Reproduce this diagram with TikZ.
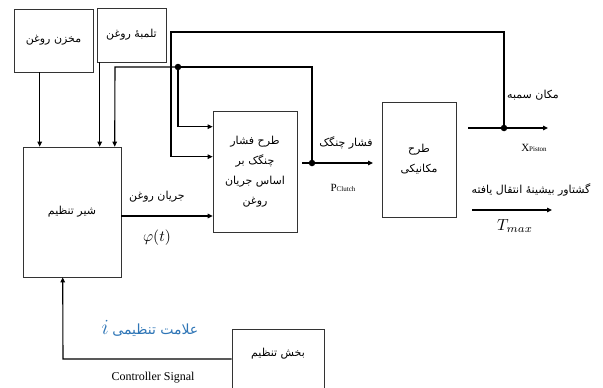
\documentclass[tikz,border=0pt]{standalone}
\usepackage{fontspec}
\setmainfont{Liberation Serif}
\newfontfamily\fa[Script=Arabic]{DejaVu Sans}
\TeXXeTstate=1
\usetikzlibrary{arrows.meta}
\definecolor{sigblue}{RGB}{46,117,182}
\newcommand{\fatxt}[1]{{\fa\beginR #1\endR}}
\begin{document}
\begin{tikzpicture}[x=1pt, y=-1pt,
    block/.style={draw=black!80, line width=0.6pt, inner sep=0pt, align=center, font=\fontsize{11}{20}\selectfont},
    wire/.style={line width=1.1pt},
    flow/.style={wire, -{Triangle[length=5pt,width=4.5pt]}},
    dot/.style={circle, fill=black, inner sep=0pt, minimum size=6.5pt},
    lbl/.style={font=\fontsize{11}{13}\selectfont}]
    \useasboundingbox (0,0) rectangle (603,388);
    % blocks
    \node[block, minimum width=79pt, minimum height=63pt] (tank) at (53.5,40.5) {\fatxt{مخزن روغن}};
    \node[block, minimum width=69pt, minimum height=54pt] (pump) at (131.5,35) {\fatxt{تلمبهٔ روغن}};
    \node[block, minimum width=98pt, minimum height=130pt] (valve) at (72,212) {\fatxt{شیر تنظیم}};
    \node[block, minimum width=84pt, minimum height=121pt] (press) at (255,171.5)
        {\fatxt{طرح فشار}\\\fatxt{چنگک بر}\\\fatxt{اساس جریان}\\\fatxt{روغن}};
    \node[block, minimum width=74pt, minimum height=115pt] (mech) at (419,159.5)
        {\fatxt{طرح}\\\fatxt{مکانیکی}};
    \node[block, minimum width=92pt, minimum height=64pt, text depth=18pt] (ctrl) at (278,361) {\fatxt{بخش تنظیم}};
    % junctions
    \node[dot] (j1) at (178,67) {};
    \node[dot] (j2) at (312,163) {};
    \node[dot] (j3) at (504,128) {};
    \coordinate (pout) at (373,163);
    \coordinate (xin) at (468,128);
    \coordinate (xout) at (548,128);
    \coordinate (tin) at (472,210);
    \coordinate (tout) at (552,210);
    % connectors
    \draw[flow] ([xshift=26pt]tank.south west) -- ([xshift=17pt]valve.north west);
    \draw[flow] ([xshift=3pt]pump.south west) -- ([xshift=77pt]valve.north west);
    \draw[flow] (j1.center) -- (115,67) -- ([xshift=92pt]valve.north west);
    \draw[wire] (j1.center) -- (312,67) -- (j2.center);
    \draw[flow] (j1.center) |- ([yshift=-16pt]press.north west);
    \draw[flow] (j3.center) -- (504,32) -- (171,32) |- ([yshift=-46pt]press.north west);
    \draw[flow] ([xshift=5pt]press.east |- j2) -- (pout);
    \draw[flow] (xin) -- (xout);
    \draw[flow] (tin) -- (tout);
    \draw[flow] (valve.east |- 0,216) -- (press.west |- 0,216);
    \draw[flow] (ctrl.west |- 0,359) -- (63,359) -- ([xshift=40pt]valve.south west);
    % labels
    \node[lbl] (flowlbl) at (157,197) {\fatxt{جریان روغن}};
    \node (phi) at (157,238) {\scalebox{1.55}{$\varphi(t)$}};
    \node[lbl] (plbl) at (346,143) {\fatxt{فشار چنگک}};
    \node (psym) at (343,188) {\fontsize{11}{11}\selectfont P{\fontsize{7}{7}\selectfont Clutch}};
    \node[lbl] (xlbl) at (533,95) {\fatxt{مکان سمبه}};
    \node (xsym) at (534,148) {\fontsize{11}{11}\selectfont X{\fontsize{7}{7}\selectfont Piston}};
    \node[lbl] (tlbl) at (531,190) {\fatxt{گشتاور بیشینهٔ انتقال یافته}};
    \node (tsym) at (515,226) {\scalebox{1.6}{$T_{max}$}};
    \node[lbl, text=sigblue, font=\fontsize{14}{16}\selectfont] (siglbl) at (150,328) {\scalebox{1.5}{$i$}\ \fatxt{علامت تنظیمی}};
    \node (sigen) at (153,378) {\fontsize{12}{12}\selectfont Controller Signal};
\end{tikzpicture}
\end{document}
